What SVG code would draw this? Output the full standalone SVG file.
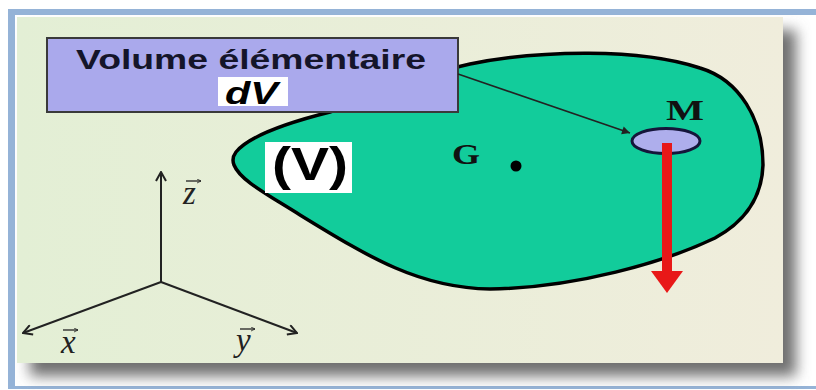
<svg xmlns="http://www.w3.org/2000/svg" width="816" height="390" viewBox="0 0 816 390">
  <defs>
    <style>
      .sans { font-family: "Liberation Sans", Arial, sans-serif; font-weight: bold; }
      .serif { font-family: "Liberation Serif", "Times New Roman", serif; }
      .axis { stroke: #222; stroke-width: 2; fill: none; }
      .vec { stroke: #222; stroke-width: 1.3; fill: none; }
    </style>
    <linearGradient id="panelGrad" x1="0" y1="0" x2="1" y2="0">
      <stop offset="0" stop-color="#e3efd5"/>
      <stop offset="1" stop-color="#f0eddc"/>
    </linearGradient>
    <filter id="blur" x="-5%" y="-5%" width="110%" height="115%">
      <feGaussianBlur stdDeviation="7"/>
    </filter>
    <marker id="openHead" viewBox="0 0 10 10" refX="9" refY="5" markerWidth="5" markerHeight="5" orient="auto" markerUnits="userSpaceOnUse">
      <path d="M1,1 L9,5 L1,9" fill="none" stroke="#222" stroke-width="1.6"/>
    </marker>
    <marker id="axisHead" viewBox="0 0 12 12" refX="11" refY="6" markerWidth="12" markerHeight="12" orient="auto" markerUnits="userSpaceOnUse">
      <path d="M2,1 L11,6 L2,11" fill="none" stroke="#222" stroke-width="2"/>
    </marker>
    <marker id="smallHead" viewBox="0 0 10 10" refX="9" refY="5" markerWidth="10" markerHeight="10" orient="auto" markerUnits="userSpaceOnUse">
      <path d="M1,1 L9,5 L1,9 Z" fill="#222"/>
    </marker>
  </defs>

  <!-- frame -->
  <rect x="0" y="0" width="816" height="390" fill="#ffffff"/>
  <rect x="8" y="9" width="808" height="6" fill="#95b3d7"/>
  <rect x="8" y="9" width="7" height="380" fill="#95b3d7"/>
  <rect x="8" y="386" width="808" height="3" fill="#95b3d7"/>

  <!-- panel with shadow -->
  <rect x="30" y="30" width="766" height="346" fill="#707070" filter="url(#blur)"/>
  <rect x="17" y="17" width="766" height="346" fill="url(#panelGrad)"/>

  <!-- body (V) -->
  <g id="body-V">
    <path d="M236,152 C250,135 290,122 330,112 C380,95 420,75 470,64 C540,50 640,48 700,68 C740,80 763,120 763,165 C762,195 748,220 715,238 C665,262 575,288 490,289 C420,288 370,258 300,215 C265,193 240,180 234,165 C232,160 233,156 236,152 Z" fill="#12cc9b" stroke="#000" stroke-width="3.5" stroke-linejoin="round"/>
    <rect x="265" y="142" width="87" height="51" fill="#ffffff"/>
    <text x="272" y="180" class="sans" font-size="46" fill="#000" textLength="76" lengthAdjust="spacingAndGlyphs">(V)</text>
  </g>

  <!-- centre of gravity G -->
  <g id="point-G">
    <text x="452" y="164" class="serif" font-weight="bold" font-size="29" fill="#111" textLength="28" lengthAdjust="spacingAndGlyphs">G</text>
    <circle cx="516" cy="166" r="5.5" fill="#000"/>
  </g>

  <!-- elementary volume at M -->
  <g id="point-M">
    <ellipse cx="666" cy="141" rx="34" ry="12.5" fill="#aeaeec" stroke="#15153a" stroke-width="3"/>
    <text x="666" y="120" class="serif" font-weight="bold" font-size="29" fill="#111" textLength="38" lengthAdjust="spacingAndGlyphs">M</text>
  </g>

  <!-- label box -->
  <g id="label-box">
    <rect x="47" y="38" width="411" height="74" fill="#aaa9ec" stroke="#3a3a3a" stroke-width="2"/>
    <text x="251" y="69" class="sans" font-size="27" fill="#15152a" text-anchor="middle" textLength="350" lengthAdjust="spacingAndGlyphs">Volume élémentaire</text>
    <rect x="218" y="77" width="70" height="29" fill="#ffffff"/>
    <text x="225" y="104" class="sans" font-style="italic" font-size="32" fill="#000" textLength="53" lengthAdjust="spacingAndGlyphs">dV</text>
  </g>

  <!-- axes -->
  <g id="axes">
    <line x1="161" y1="282" x2="161" y2="172" class="axis" marker-end="url(#axisHead)"/>
    <line x1="161" y1="282" x2="23" y2="333" class="axis" marker-end="url(#axisHead)"/>
    <line x1="161" y1="282" x2="297" y2="333" class="axis" marker-end="url(#axisHead)"/>
    <text x="183" y="204" class="serif" font-style="italic" font-size="33" fill="#222">z</text>
    <line x1="186" y1="181" x2="201" y2="181" class="vec" marker-end="url(#openHead)"/>
    <text x="61" y="353" class="serif" font-style="italic" font-size="33" fill="#222">x</text>
    <line x1="63" y1="330" x2="78" y2="330" class="vec" marker-end="url(#openHead)"/>
    <text x="236" y="351" class="serif" font-style="italic" font-size="33" fill="#222">y</text>
    <line x1="240" y1="329" x2="255" y2="329" class="vec" marker-end="url(#openHead)"/>
  </g>

  <!-- connectors -->
  <g id="connectors">
    <line x1="458" y1="74" x2="630" y2="133" stroke="#222" stroke-width="1.5" marker-end="url(#smallHead)"/>
    <rect x="662" y="143" width="10" height="129" fill="#e81818"/>
    <polygon points="651,271 683,271 667,293" fill="#e81818"/>
  </g>
</svg>
